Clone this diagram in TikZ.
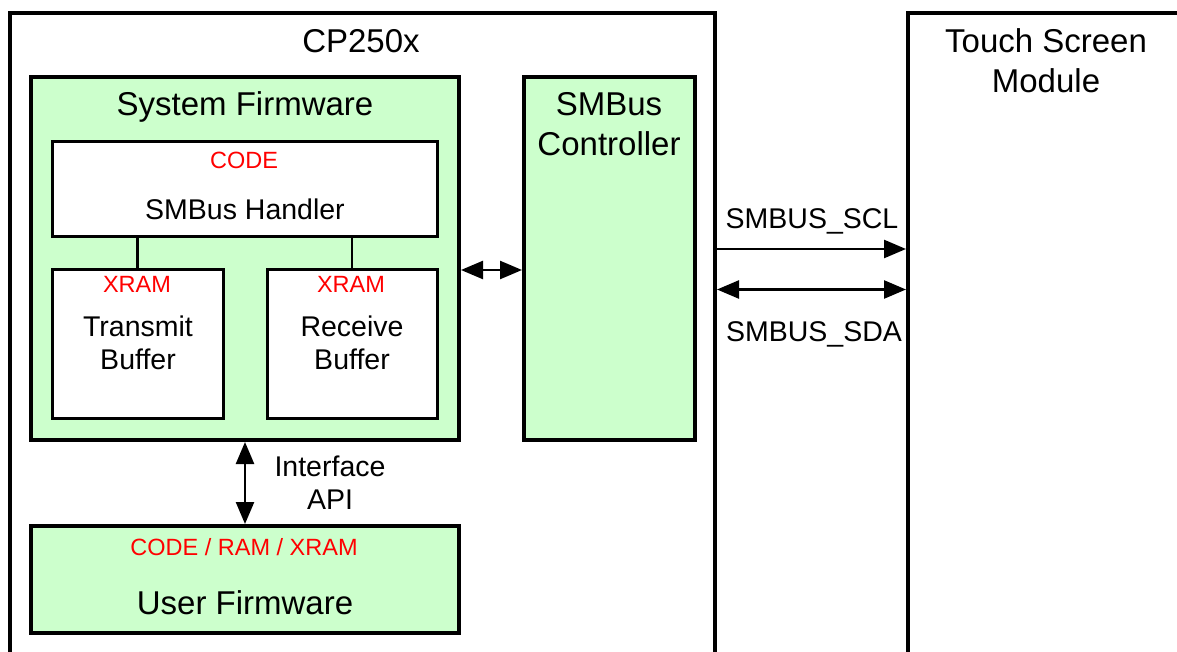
\documentclass[tikz,border=0pt]{standalone}
\usepackage{fontspec}
\setmainfont{Liberation Sans}
\usetikzlibrary{arrows.meta}
\definecolor{fwgreen}{HTML}{CCFFCC}

\tikzset{
  chip/.style={draw, line width=4pt, fill=white, inner sep=0pt},
  fwbox/.style={draw, line width=4pt, fill=fwgreen, inner sep=0pt},
  membox/.style={draw, line width=3pt, fill=white, inner sep=0pt},
  bigtxt/.style={font=\fontsize{33}{40}\selectfont, align=center, inner sep=0pt},
  midtxt/.style={font=\fontsize{28.5}{33}\selectfont, align=center, inner sep=0pt},
  tagtxt/.style={font=\fontsize{23.5}{27}\selectfont, text=red, inner sep=0pt},
  wire/.style={line width=2.5pt},
  bus/.style={line width=2.5pt, {Triangle[length=22pt,width=18pt]}-{Triangle[length=22pt,width=18pt]}},
  busout/.style={line width=2.5pt, -{Triangle[length=22pt,width=18pt]}}
}

\begin{document}
\begin{tikzpicture}[x=1pt,y=-1pt]
\useasboundingbox (0,0) rectangle (1177,652);
\clip (0,0) rectangle (1177,652);
% Draw the two chips (cut off at the page edge)
\node[chip, minimum width=705pt, minimum height=687pt] (cp) at (362.5,356.5) {};
\node[chip, minimum width=352pt, minimum height=687pt] (touch) at (1084,356.5) {};
\node[bigtxt, anchor=base] (cplbl) at (361,53) {CP250x};
\node[bigtxt] (touchlbl) at (1046,60.5) {Touch Screen\\Module};
% Draw firmware and controller blocks
\node[fwbox, minimum width=428pt, minimum height=363pt] (sysfw) at (245,258.5) {};
\node[bigtxt, anchor=base] (sysfwlbl) at (245,116) {System Firmware};
\node[fwbox, minimum width=171pt, minimum height=363pt] (smbc) at (609.5,258.5) {};
\node[bigtxt] (smbclbl) at (609,124.5) {SMBus\\Controller};
\node[fwbox, minimum width=428pt, minimum height=107pt] (userfw) at (245,579.5) {};
\node[tagtxt, anchor=base] (usertag) at (244,555) {CODE / RAM / XRAM};
\node[bigtxt, anchor=base] (userlbl) at (245,614) {User Firmware};
% Draw handler and buffers
\node[membox, minimum width=385pt, minimum height=95pt] (handler) at (244.5,189.5) {};
\node[tagtxt, anchor=base] (handlertag) at (244,169) {CODE};
\node[midtxt, anchor=base] (handlerlbl) at (245,220) {SMBus Handler};
\node[membox, minimum width=171pt, minimum height=149pt] (txbuf) at (137.5,343.5) {};
\node[membox, minimum width=170pt, minimum height=149pt] (rxbuf) at (352,343.5) {};
\node[tagtxt, anchor=base] (txtag) at (137,292) {XRAM};
\node[tagtxt, anchor=base] (rxtag) at (351,292) {XRAM};
\node[midtxt] (txlbl) at (138,343) {Transmit\\Buffer};
\node[midtxt] (rxlbl) at (352,343) {Receive\\Buffer};
\draw[wire] (txbuf.north) -- (txbuf.north |- handler.south);
\draw[wire] (rxbuf.north) -- (rxbuf.north |- handler.south);
% Draw bus connections
\coordinate (fwrow) at (0,270);
\coordinate (sclrow) at (0,249);
\coordinate (sdarow) at (0,289.5);
\draw[bus] (sysfw.east |- fwrow) -- (smbc.west |- fwrow);
\draw[bus] (sysfw.south) -- (userfw.north);
\node[midtxt] (apilbl) at (330,482.5) {Interface\\API};
\draw[busout] (cp.east |- sclrow) -- (touch.west |- sclrow);
\draw[bus] (cp.east |- sdarow) -- (touch.west |- sdarow);
\node[midtxt, anchor=base] (scllbl) at (812,229) {SMBUS\_SCL};
\node[midtxt, anchor=base] (sdalbl) at (814,341) {SMBUS\_SDA};
\end{tikzpicture}
\end{document}
